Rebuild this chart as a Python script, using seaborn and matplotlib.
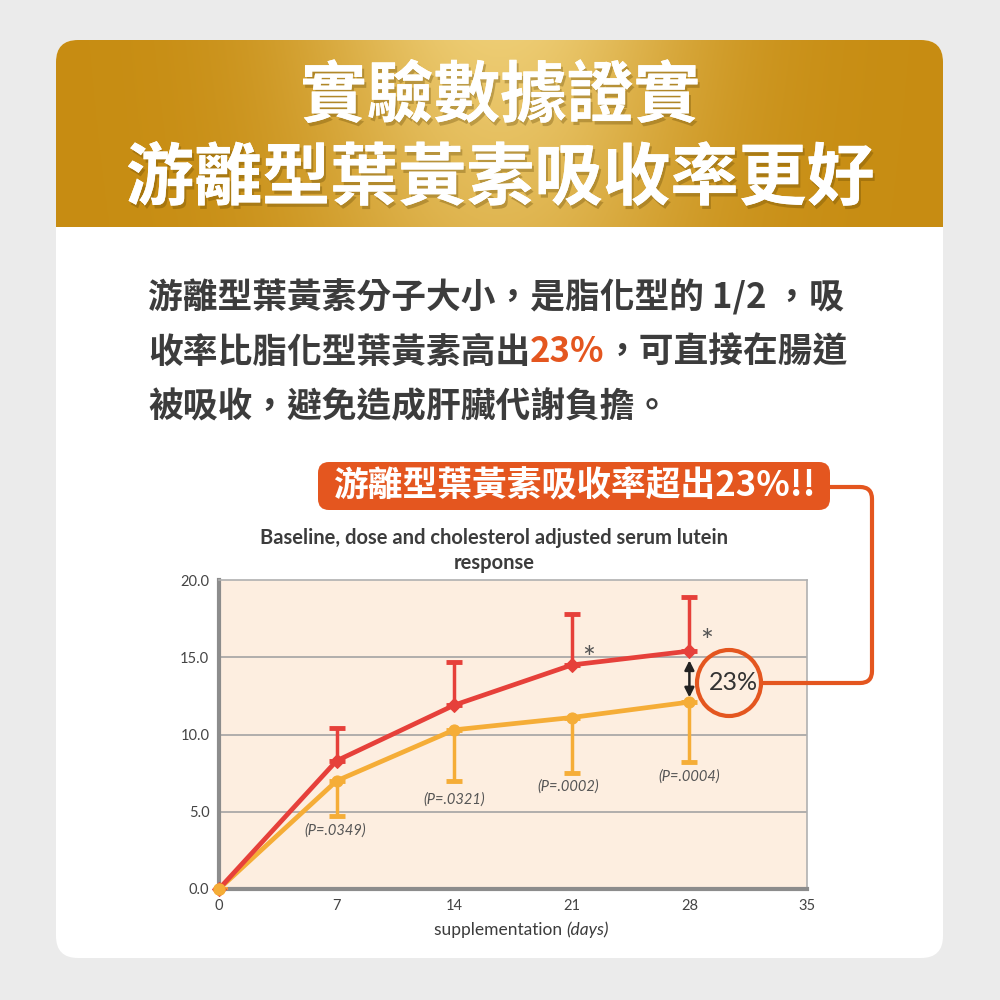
import matplotlib
matplotlib.use("Agg")
import matplotlib.pyplot as plt
import matplotlib.patheffects as pe
from matplotlib.patches import FancyBboxPatch, Ellipse, PathPatch
from matplotlib.path import Path
import seaborn as sns
import numpy as np
import pandas as pd

# data
days = [0, 7, 14, 21, 28]
free_lutein = [0.0, 8.3, 11.9, 14.5, 15.4]
free_upper = [0.0, 10.4, 14.7, 17.8, 18.9]
ester_lutein = [0.0, 7.0, 10.3, 11.1, 12.1]
ester_lower = [0.0, 4.7, 7.0, 7.5, 8.2]
p_labels = ["(P=.0349)", "(P=.0321)", "(P=.0002)", "(P=.0004)"]
p_days = [6.9, 14.0, 20.8, 28.0]
p_ys = [3.8, 5.8, 6.6, 7.3]
star_days = [22.0, 29.0]
star_ys = [14.9, 16.0]
x_ticks = [0, 7, 14, 21, 28, 35]
y_ticks = [0, 5, 10, 15, 20]

RED = "#e6403a"
ORANGE = "#f5ad37"
ACCENT = "#e4561f"
TEXT = "#3c3c3c"
CJK = ["Noto Sans CJK TC", "DejaVu Sans"]
LATIN = ["Lato", "DejaVu Sans"]

sns.set_theme(style="white")
plt.rcParams["font.family"] = CJK

fig = plt.figure(figsize=(10, 10), dpi=100)
fig.patch.set_facecolor("#ebebeb")

bg = fig.add_axes([0, 0, 1, 1])
bg.set_xlim(0, 1000)
bg.set_ylim(1000, 0)
bg.axis("off")

# white card
card = FancyBboxPatch((56, 40), 887, 918, boxstyle="round,pad=0,rounding_size=22",
                      fc="white", ec="none", zorder=0)
bg.add_patch(card)

# gold header with a light glow in the middle
gx = np.linspace(0, 1, 400)
gy = np.linspace(0, 1, 100)
GX, GY = np.meshgrid(gx, gy)
glow = np.exp(-((GX - 0.5) / 0.22) ** 2) * (1 - 0.35 * GY)
edge = np.array([0.78, 0.55, 0.07])
mid = np.array([0.93, 0.80, 0.45])
grad = edge + glow[..., None] * (mid - edge)
im = bg.imshow(grad, extent=(56, 943, 227, 40), aspect="auto", zorder=1)
im.set_clip_path(card)

shadow = [pe.withSimplePatchShadow(offset=(1.5, -2.5), shadow_rgbFace="#5a4000", alpha=0.3),
          pe.Normal()]
bg.text(500, 97, "實驗數據證實", ha="center", va="center", fontsize=48,
        weight="bold", color="white", path_effects=shadow, zorder=3)
bg.text(500, 180, "游離型葉黃素吸收率更好", ha="center", va="center", fontsize=49,
        weight="bold", color="white", path_effects=shadow, zorder=3)

renderer = fig.canvas.get_renderer()


def run_text(ax, x, y, parts, **kw):
    # parts: list of (string, extra kwargs)
    for s, extra in parts:
        opts = dict(kw)
        opts.update(extra)
        t = ax.text(x, y, s, ha="left", va="center", **opts)
        x += t.get_window_extent(renderer).width


para = dict(fontsize=25, weight="bold", color=TEXT)
run_text(bg, 148, 297, [("游離型葉黃素分子大小，是脂化型的 1/2 ，吸", {})], **para)
run_text(bg, 148, 352, [("收率比脂化型葉黃素高出", {}), ("23%", {"color": ACCENT}),
                        ("，可直接在腸道", {})], **para)
run_text(bg, 148, 407, [("被吸收，避免造成肝臟代謝負擔。", {})], **para)

# chart title
bg.text(494, 538, "Baseline, dose and cholesterol adjusted serum lutein", ha="center",
        va="center", fontsize=14.5, weight="bold", color=TEXT, family=LATIN)
bg.text(494, 563, "response", ha="center", va="center", fontsize=14.5, weight="bold",
        color=TEXT, family=LATIN)

# x label
run_text(bg, 434, 930, [("supplementation ", {}), ("(days)", {"style": "italic"})],
         fontsize=12.5, color=TEXT, family=LATIN)

# chart axes
ax = fig.add_axes([0.219, 0.111, 0.588, 0.309])
ax.set_facecolor("#fdeee0")
ax.set_xlim(0, 35)
ax.set_ylim(0, 20)

df = pd.DataFrame({"day": days * 2,
                   "value": free_lutein + ester_lutein,
                   "form": ["free"] * 5 + ["ester"] * 5})

ax.errorbar(days, free_lutein,
            yerr=[np.zeros(5), np.array(free_upper) - np.array(free_lutein)],
            fmt="none", ecolor=RED, elinewidth=2.5, capsize=6, capthick=3.5, zorder=3)
ax.errorbar(days, ester_lutein,
            yerr=[np.array(ester_lutein) - np.array(ester_lower), np.zeros(5)],
            fmt="none", ecolor=ORANGE, elinewidth=2.5, capsize=6, capthick=3.5, zorder=3)

sns.lineplot(data=df[df.form == "ester"], x="day", y="value", ax=ax, color=ORANGE,
             lw=3.4, marker="o", markersize=8, markeredgecolor=ORANGE, clip_on=False, zorder=4)
sns.lineplot(data=df[df.form == "free"], x="day", y="value", ax=ax, color=RED,
             lw=3.4, marker="D", markersize=7, markeredgecolor=RED, clip_on=False, zorder=5)
# orange origin marker sits over the red one
ax.plot(days[:1], ester_lutein[:1], "o", color=ORANGE, ms=8, clip_on=False, zorder=6)

for d, y in zip(star_days, star_ys):
    ax.text(d, y, "*", ha="center", va="center", fontsize=22, color="#555555",
            family=LATIN, zorder=6)
for d, y, s in zip(p_days, p_ys, p_labels):
    ax.text(d, y, s, ha="center", va="center", fontsize=10.5, style="italic",
            color="#555555", family=LATIN, zorder=6)

ax.annotate("", xy=(28, 12.4), xytext=(28, 14.8),
            arrowprops=dict(arrowstyle="<|-|>", color="#222222", lw=1.8, mutation_scale=14,
                            shrinkA=0, shrinkB=0), zorder=7)
ax.text(30.65, 13.35, "23%", ha="center", va="center", fontsize=18, color="#333333",
        family=LATIN, zorder=7)

ax.set_xticks(x_ticks)
ax.set_xticklabels([str(v) for v in x_ticks])
ax.set_yticks(y_ticks)
ax.set_yticklabels(["%.1f" % v for v in y_ticks])
ax.set_yticks([2.5, 7.5, 12.5, 17.5], minor=True)
for lab in ax.get_xticklabels() + ax.get_yticklabels():
    lab.set_family(LATIN)
ax.tick_params(axis="both", which="both", direction="out", colors="#8a8a8a",
               labelcolor="#444444", labelsize=10.5, width=3, length=5, pad=2)
ax.tick_params(axis="y", which="minor", length=5, width=3)
ax.grid(False)
for v in [5, 10, 15]:
    ax.axhline(v, color="#a3a3a3", lw=1.2, zorder=1)
for side in ["left", "bottom"]:
    ax.spines[side].set_color("#8c8c8c")
    ax.spines[side].set_linewidth(3)
for side in ["top", "right"]:
    ax.spines[side].set_color("#b0b0b0")
    ax.spines[side].set_linewidth(1.2)
ax.set_xlabel("")
ax.set_ylabel("")
if ax.get_legend() is not None:
    ax.get_legend().remove()

# overlay for callout badge, connector and circle
ov = fig.add_axes([0, 0, 1, 1])
ov.set_xlim(0, 1000)
ov.set_ylim(1000, 0)
ov.axis("off")
ov.patch.set_alpha(0)

badge = FancyBboxPatch((318, 462), 512, 48, boxstyle="round,pad=0,rounding_size=11",
                       fc=ACCENT, ec="none")
ov.add_patch(badge)
ov.text(574, 486, "游離型葉黃素吸收率超出23%!!", ha="center", va="center", fontsize=25,
        weight="bold", color="white")

verts = [(762, 683), (860, 683), (872, 683), (872, 671), (872, 499), (872, 487),
         (860, 487), (830, 487)]
codes = [Path.MOVETO, Path.LINETO, Path.CURVE3, Path.CURVE3, Path.LINETO, Path.CURVE3,
         Path.CURVE3, Path.LINETO]
ov.add_patch(PathPatch(Path(verts, codes), fc="none", ec=ACCENT, lw=3))
ov.add_patch(Ellipse((729, 683), 64, 66, fc="none", ec=ACCENT, lw=3))

fig.savefig("out.png", dpi=100, facecolor=fig.get_facecolor())
